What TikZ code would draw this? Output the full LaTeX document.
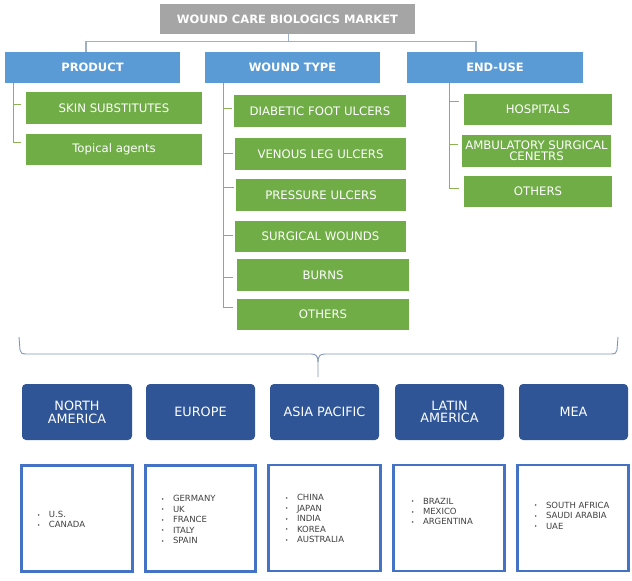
\documentclass[tikz,border=0pt]{standalone}
\usepackage{fontspec}
\setmainfont{DejaVu Sans}
\begin{document}
\begin{tikzpicture}[x=1pt,y=-1pt,
  base/.style={inner sep=0pt, outer sep=0pt, align=center, text=white},
  titlebox/.style={base, fill=titlegray, font=\fontsize{11.5}{12}\selectfont\bfseries},
  headbox/.style={base, fill=headblue, font=\fontsize{11.5}{12}\selectfont\bfseries},
  greenbox/.style={base, fill=boxgreen, font=\fontsize{11.7}{11.2}\selectfont},
  regionbox/.style={base, fill=regblue, rounded corners=4pt, font=\fontsize{12.8}{12.8}\selectfont},
  listbox/.style={base, draw=listblue, line width=2.3pt, fill=white},
  listtext/.style={inner sep=0pt, outer sep=0pt, align=left, anchor=west, text=listgray, font=\fontsize{8.5}{10.4}\selectfont},
  busline/.style={draw=busblue, line width=1.3pt},
  treeline/.style={draw=treegreen, line width=1pt},
  braceline/.style={draw=braceblue, line width=0.9pt},
]
\definecolor{titlegray}{HTML}{A5A5A5}
\definecolor{headblue}{HTML}{5B9BD5}
\definecolor{boxgreen}{HTML}{70AD47}
\definecolor{regblue}{HTML}{2F5597}
\definecolor{listblue}{HTML}{4472C4}
\definecolor{listgray}{HTML}{404040}
\definecolor{busblue}{HTML}{9DB0C8}
\definecolor{treegreen}{HTML}{8DB255}
\definecolor{braceblue}{HTML}{8096B8}
\newcommand{\bul}{\makebox[12pt][l]{\raisebox{0.3pt}{\fontsize{5.5}{5.5}\selectfont\textbullet}}}

\useasboundingbox (0,0) rectangle (632,581);

% title and headers
\node[titlebox, minimum width=255pt, minimum height=30pt] (title) at (287.5,19) {WOUND CARE BIOLOGICS MARKET};
\node[headbox, minimum width=175pt, minimum height=31pt] (product) at (92.5,67.5) {PRODUCT};
\node[headbox, minimum width=175pt, minimum height=31pt] (wound) at (292.5,67.5) {WOUND TYPE};
\node[headbox, minimum width=176pt, minimum height=31pt] (enduse) at (495,67.5) {END-USE};

% top bus
\coordinate (busL) at (86,41.5);
\coordinate (busR) at (476,41.5);
\draw[busline] ([xshift=1pt]title.south) -- ([xshift=1pt]title.south |- busL);
\draw[busline] (busL |- product.north) -- (busL) -- (busR) -- (busR |- enduse.north);

% product children
\node[greenbox, minimum width=176pt, minimum height=32pt] (skin) at (114,108) {SKIN SUBSTITUTES};
\node[greenbox, minimum width=176pt, minimum height=31pt] (topical) at (114,149.5) {Topical agents};

% wound type children
\node[greenbox, minimum width=172pt, minimum height=32pt] (dfu) at (320,111) {DIABETIC FOOT ULCERS};
\node[greenbox, minimum width=171pt, minimum height=32pt] (vlu) at (320.5,154) {VENOUS LEG ULCERS};
\node[greenbox, minimum width=170pt, minimum height=32pt] (pu) at (321,195) {PRESSURE ULCERS};
\node[greenbox, minimum width=171pt, minimum height=31pt] (sw) at (320.5,236.5) {SURGICAL WOUNDS};
\node[greenbox, minimum width=172pt, minimum height=32pt] (burns) at (323,275) {BURNS};
\node[greenbox, minimum width=172pt, minimum height=31pt] (wothers) at (323,314.5) {OTHERS};

% end-use children
\node[greenbox, minimum width=148pt, minimum height=31pt] (hosp) at (538,109.5) {HOSPITALS};
\node[greenbox, minimum width=149pt, minimum height=32pt] (amb) at (536.5,151) {AMBULATORY SURGICAL\\CENETRS};
\node[greenbox, minimum width=148pt, minimum height=31pt] (eothers) at (538,191.5) {OTHERS};

% tree connectors
\draw[treeline] ([xshift=8pt]product.south west) |- ([xshift=-5pt,yshift=4pt]skin.west);
\draw[treeline] ([xshift=8pt]product.south west) |- ([xshift=-5pt,yshift=7pt]topical.west);

\draw[treeline] ([xshift=18pt]wound.south west) |- ([xshift=-2pt,yshift=3pt]dfu.west);
\draw[treeline] ([xshift=18pt]wound.south west) |- ([xshift=-2pt,yshift=1pt]vlu.west);
\draw[treeline] ([xshift=18pt]wound.south west) |- ([xshift=-2pt,yshift=8pt]pu.west);
\draw[treeline] ([xshift=18pt]wound.south west) |- ([xshift=-2pt,yshift=1.5pt]sw.west);
\draw[treeline] ([xshift=18pt]wound.south west) |- ([xshift=-4pt,yshift=-2pt]burns.west);
\draw[treeline] ([xshift=18pt]wound.south west) |- ([xshift=-4pt,yshift=7.5pt]wothers.west);

\draw[treeline] ([xshift=42pt]enduse.south west) |- ([xshift=-5pt,yshift=8.5pt]hosp.west);
\draw[treeline] ([xshift=42pt]enduse.south west) |- ([xshift=-4pt,yshift=7pt]amb.west);
\draw[treeline] ([xshift=42pt]enduse.south west) |- ([xshift=-5pt,yshift=3.5pt]eothers.west);

% regions
\node[regionbox, minimum width=110pt, minimum height=56pt] (na) at (77,412) {NORTH\\AMERICA};
\node[regionbox, minimum width=109pt, minimum height=56pt] (eu) at (200.5,412) {EUROPE};
\node[regionbox, minimum width=109pt, minimum height=56pt] (ap) at (324.5,412) {ASIA PACIFIC};
\node[regionbox, minimum width=109pt, minimum height=56pt] (la) at (449.5,412) {LATIN\\AMERICA};
\node[regionbox, minimum width=109pt, minimum height=56pt] (mea) at (573.5,412) {MEA};

% brace
\coordinate (braceTip) at (318,377);
\draw[braceline] (19,337) -- (20,350) .. controls (20.5,353) and (22,354) .. (26,354)
  -- (311,354) .. controls (316,354) and (318,356) .. (318,362) -- (braceTip);
\draw[braceline] (618,337) -- (617,350) .. controls (616.5,353) and (615,354) .. (611,354)
  -- (325,354) .. controls (320,354) and (318,356) .. (318,362);

% list boxes
\node[listbox, minimum width=111pt, minimum height=106pt] (l1) at (77,518.5) {};
\node[listbox, minimum width=110pt, minimum height=106pt] (l2) at (200.5,518.5) {};
\node[listbox, minimum width=112pt, minimum height=106pt] (l3) at (324.5,518) {};
\node[listbox, minimum width=111pt, minimum height=106pt] (l4) at (449,518) {};
\node[listbox, minimum width=111pt, minimum height=106pt] (l5) at (573,518) {};

\node[listtext] (t1) at (37,519.5) {\bul U.S.\\\bul CANADA};
\node[listtext] (t2) at (161,519.5) {\bul GERMANY\\\bul UK\\\bul FRANCE\\\bul ITALY\\\bul SPAIN};
\node[listtext] (t3) at (285,518.5) {\bul CHINA\\\bul JAPAN\\\bul INDIA\\\bul KOREA\\\bul AUSTRALIA};
\node[listtext] (t4) at (411,511.5) {\bul BRAZIL\\\bul MEXICO\\\bul ARGENTINA};
\node[listtext] (t5) at (534,515.5) {\bul SOUTH AFRICA\\\bul SAUDI ARABIA\\\bul UAE};
\end{tikzpicture}
\end{document}
